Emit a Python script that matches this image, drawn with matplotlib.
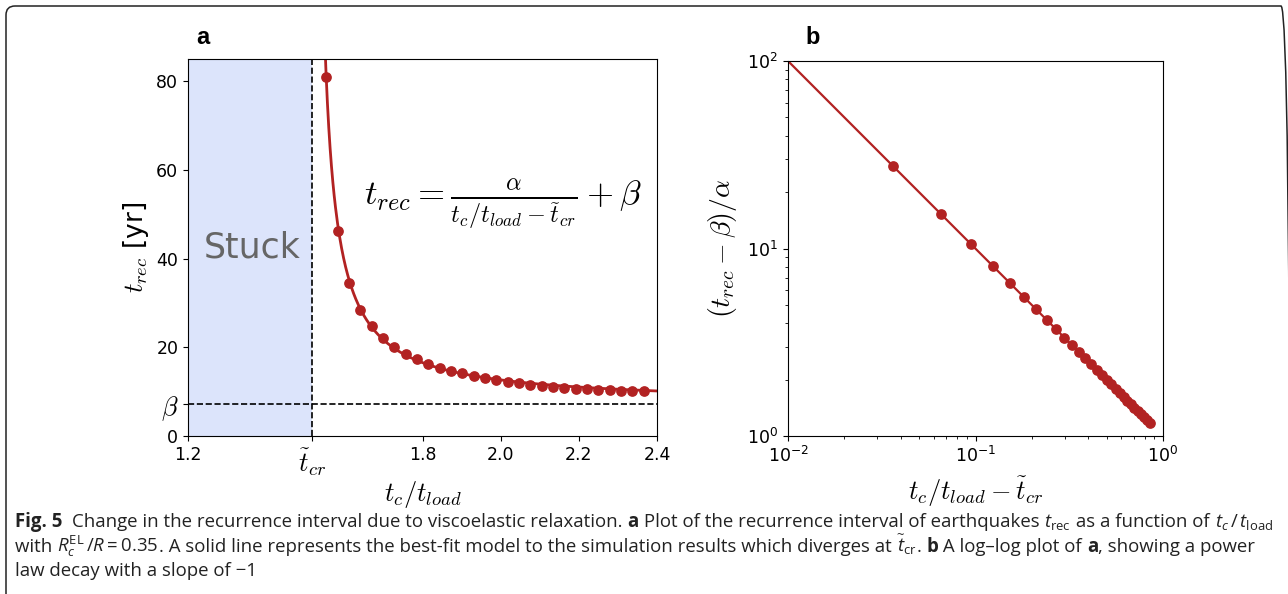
"""Fig. 5: recurrence interval vs t_c/t_load, linear and log-log."""

import matplotlib
matplotlib.use("Agg")
import matplotlib.pyplot as plt
import numpy as np
from matplotlib.patches import FancyBboxPatch

# fit parameters
T_CR = 1.5177
ALPHA = 2.65
BETA = 7.15

# simulation points, panel a
tc_ratio = [1.554, 1.583, 1.612, 1.641, 1.670, 1.699, 1.728, 1.757, 1.786,
            1.815, 1.844, 1.873, 1.902, 1.931, 1.960, 1.989, 2.018, 2.047,
            2.076, 2.105, 2.134, 2.163, 2.192, 2.221, 2.250, 2.279, 2.308,
            2.337, 2.366]
t_rec = [80.9, 46.2, 34.6, 28.5, 24.7, 22.0, 20.0, 18.5, 17.3, 16.2, 15.4,
         14.7, 14.1, 13.5, 13.1, 12.6, 12.2, 11.9, 11.6, 11.3, 11.1, 10.9,
         10.7, 10.6, 10.4, 10.4, 10.2, 10.1, 10.1]
# normalised values, panel b
t_rec_norm = [27.5, 15.3, 10.6, 8.11, 6.57, 5.52, 4.76, 4.18, 3.73, 3.36,
              3.06, 2.81, 2.60, 2.42, 2.26, 2.12, 2.00, 1.89, 1.79, 1.70,
              1.62, 1.55, 1.48, 1.42, 1.37, 1.31, 1.27, 1.22, 1.18]

RED = "#b22222"
W, H = 1288, 594

plt.rcParams["mathtext.fontset"] = "dejavusans"
plt.rcParams["mathtext.rm"] = "Open Sans"
plt.rcParams["mathtext.it"] = "Open Sans:italic"
plt.rcParams["mathtext.bf"] = "Open Sans:bold"
plt.rcParams["axes.unicode_minus"] = False

fig = plt.figure(figsize=(W / 100, H / 100), dpi=100)

# ---- panel a
ax_a = fig.add_axes([188 / W, 1 - 436 / H, 469 / W, 377 / H])
ax_a.axvspan(1.2, T_CR, color="#dce4fb", lw=0)
ax_a.axvline(T_CR, color="black", ls="--", lw=1.2)
ax_a.axhline(BETA, color="black", ls="--", lw=1.2)
x_fit = np.linspace(T_CR + 0.02, 2.4, 500)
ax_a.plot(x_fit, ALPHA / (x_fit - T_CR) + BETA, color=RED, lw=2)
ax_a.plot(tc_ratio, t_rec, "o", color=RED, ms=6.7)
ax_a.set_xlim(1.2, 2.4)
ax_a.set_ylim(0, 85)
ax_a.set_xticks([1.2, T_CR, 1.8, 2.0, 2.2, 2.4])
ax_a.set_xticklabels(["1.2", r"$\tilde{t}_{cr}$", "1.8", "2.0", "2.2", "2.4"])
ax_a.set_yticks([0, BETA, 20, 40, 60, 80])
ax_a.set_yticklabels(["0", r"$\beta$", "20", "40", "60", "80"])
ax_a.tick_params(labelsize=12.5)
for lab in ax_a.get_xticklabels() + ax_a.get_yticklabels():
    if "$" in lab.get_text():
        lab.set_math_fontfamily("cm")
        lab.set_fontsize(19)
ax_a.set_xlabel(r"$t_c/t_{load}$", fontsize=19, math_fontfamily="cm",
                labelpad=1)
ax_a.set_ylabel(r"$t_{rec}$ [yr]", fontsize=19, math_fontfamily="cm",
                labelpad=4)
ax_a.text(0.136, 42.5, "Stuck", color="#666666", fontsize=25, ha="center",
          va="center", transform=ax_a.get_yaxis_transform())
ax_a.text(0.672, 0.613,
          r"$t_{rec} = \frac{\alpha}{t_c/t_{load} - \tilde{t}_{cr}} + \beta$",
          transform=ax_a.transAxes, fontsize=25, math_fontfamily="cm",
          ha="center", va="center")
fig.text(196 / W, 1 - 38 / H, "a", fontsize=17, fontweight="bold",
         family="Liberation Sans", va="center")

# ---- panel b
ax_b = fig.add_axes([788 / W, 1 - 436.3 / H, 375 / W, 375.3 / H])
dist = np.array(tc_ratio) - T_CR
x_line = np.array([0.01, dist[-1]])
ax_b.plot(x_line, 1 / x_line, color=RED, lw=1.6)
ax_b.plot(dist, t_rec_norm, "o", color=RED, ms=6.7)
ax_b.set_xscale("log")
ax_b.set_yscale("log")
ax_b.set_xlim(0.01, 1)
ax_b.set_ylim(1, 100)
ax_b.tick_params(labelsize=12.5)
ax_b.set_xlabel(r"$t_c/t_{load} - \tilde{t}_{cr}$", fontsize=19,
                math_fontfamily="cm", labelpad=6)
ax_b.set_ylabel(r"$(t_{rec} - \beta)/\alpha$", fontsize=20,
                math_fontfamily="cm", labelpad=6)
fig.text(805 / W, 1 - 38 / H, "b", fontsize=17, fontweight="bold",
         family="Liberation Sans", va="center")

# ---- frame
frame = FancyBboxPatch((0.06, -1.0), 12.84, 5.94 - 0.06 + 1.0,
                       boxstyle="round,pad=0,rounding_size=0.09",
                       transform=fig.dpi_scale_trans, fill=False,
                       edgecolor="#222222", lw=1.1)
fig.add_artist(frame)

# ---- caption
caption = [
    [("Fig. 5", "bold"), ("  ", "normal"),
     ("Change in the recurrence interval due to viscoelastic relaxation. ",
      "normal"),
     ("a", "bold"),
     (" Plot of the recurrence interval of earthquakes ", "normal"),
     (r"$t_{\mathrm{rec}}$", "normal"), (" as a function of ", "normal"),
     (r"$t_c\,/\,t_{\mathrm{load}}$", "normal")],
    [("with ", "normal"), (r"$R_c^{\mathrm{EL}}\,/R = 0.35$", "normal"),
     (". A solid line represents the best-fit model to the simulation "
      "results which diverges at ", "normal"),
     (r"$\widetilde{t}_{\mathrm{cr}}$", "normal"), (". ", "normal"),
     ("b", "bold"), (" A log\u2013log plot of ", "normal"), ("a", "bold"),
     (", showing a power", "normal")],
    [("law decay with a slope of \u22121", "normal")],
]
baselines = [527, 552, 576]
cap_size = 13.4

fig.canvas.draw()
renderer = fig.canvas.get_renderer()


def text_width(s, weight):
    t = fig.text(0, 0, "x" + s + "x", fontsize=cap_size, fontweight=weight,
                 family="Open Sans", math_fontfamily="custom")
    t2 = fig.text(0, 0, "xx", fontsize=cap_size, fontweight=weight,
                  family="Open Sans", math_fontfamily="custom")
    w = t.get_window_extent(renderer).width - t2.get_window_extent(renderer).width
    t.remove()
    t2.remove()
    return w


for line, y in zip(caption, baselines):
    x = 15
    for s, weight in line:
        fig.text(x / W, 1 - y / H, s, fontsize=cap_size, fontweight=weight,
                 family="Open Sans", math_fontfamily="custom",
                 va="baseline", color="#222222")
        x += text_width(s, weight)

fig.savefig("out.png", dpi=100)
